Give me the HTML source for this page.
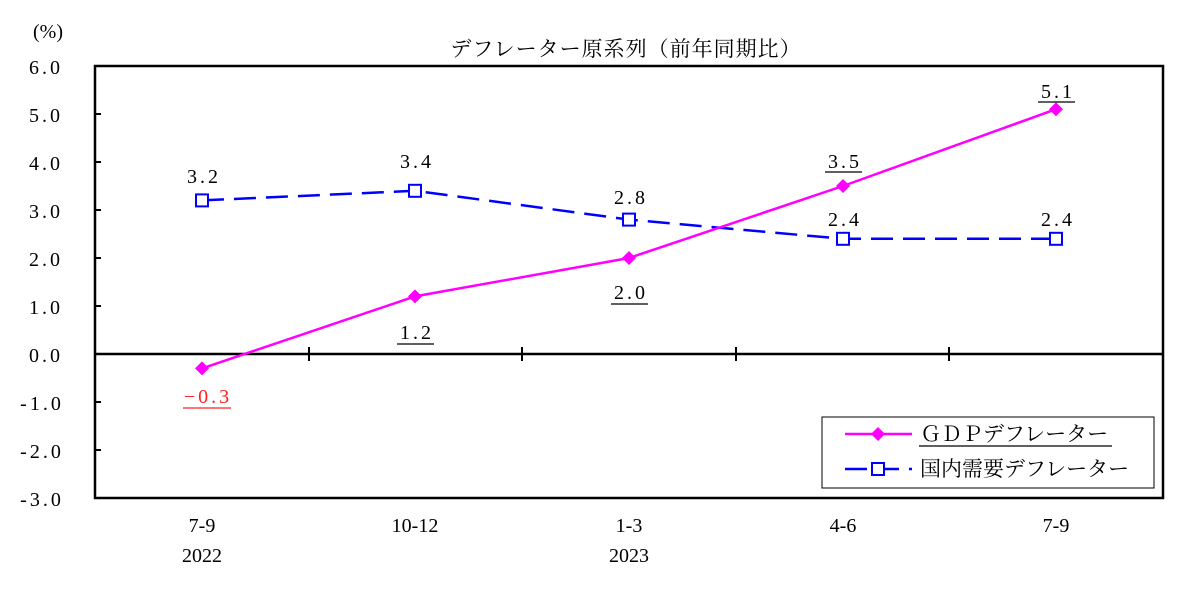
<!DOCTYPE html>
<html><head><meta charset="utf-8"><style>
html,body{margin:0;padding:0;background:#fff;}
text{font-family:"Liberation Serif","Noto Serif CJK SC",serif;font-size:20px;fill:#000;}
.jp{font-family:"Noto Serif CJK JP","Noto Serif CJK SC",serif;}
</style></head><body>
<svg width="1181" height="594" viewBox="0 0 1181 594" xmlns="http://www.w3.org/2000/svg">
<text x="48" y="38" text-anchor="middle">(%)</text>
<text class="jp" x="626" y="56" text-anchor="middle" style="font-size:21px" letter-spacing="1">デフレーター原系列（前年同期比）</text>
<rect x="95" y="66" width="1068" height="432" fill="none" stroke="#000" stroke-width="2.5"/>
<g stroke="#000" stroke-width="2">
<line x1="95" y1="114" x2="101" y2="114"/><line x1="95" y1="162" x2="101" y2="162"/>
<line x1="95" y1="210" x2="101" y2="210"/><line x1="95" y1="258" x2="101" y2="258"/>
<line x1="95" y1="306" x2="101" y2="306"/><line x1="95" y1="402" x2="101" y2="402"/>
<line x1="95" y1="450" x2="101" y2="450"/>
<line x1="95" y1="354" x2="1163" y2="354" stroke-width="2.5"/>
<line x1="309" y1="347" x2="309" y2="361"/><line x1="522" y1="347" x2="522" y2="361"/>
<line x1="736" y1="347" x2="736" y2="361"/><line x1="949" y1="347" x2="949" y2="361"/>
</g>
<g text-anchor="middle" letter-spacing="3">
<text x="46" y="74">6.0</text><text x="46" y="122">5.0</text><text x="46" y="170">4.0</text>
<text x="46" y="218">3.0</text><text x="46" y="266">2.0</text><text x="46" y="314">1.0</text>
<text x="46" y="362">0.0</text><text x="42" y="410">-1.0</text><text x="42" y="458">-2.0</text>
<text x="42" y="506">-3.0</text>
</g>
<g text-anchor="middle">
<text x="202" y="532">7-9</text><text x="415" y="532">10-12</text><text x="629" y="532">1-3</text>
<text x="843" y="532">4-6</text><text x="1056" y="532">7-9</text>
<text x="202" y="562">2022</text><text x="629" y="562">2023</text>
</g>
<polyline points="202,200.4 415,190.8 629,219.6 843,238.8 1056,238.8" fill="none" stroke="#0000ff" stroke-width="2.5" stroke-dasharray="22,10"/>
<g fill="#fff" stroke="#0000ff" stroke-width="2">
<rect x="196" y="194.4" width="12" height="12"/><rect x="409" y="184.8" width="12" height="12"/>
<rect x="623" y="213.6" width="12" height="12"/><rect x="837" y="232.8" width="12" height="12"/>
<rect x="1050" y="232.8" width="12" height="12"/>
</g>
<polyline points="202,368.4 415,296.4 629,258 843,186 1056,109.2" fill="none" stroke="#ff00ff" stroke-width="2.5"/>
<g fill="#ff00ff">
<path d="M202 361.4l7 7-7 7-7-7z"/><path d="M415 289.4l7 7-7 7-7-7z"/><path d="M629 251l7 7-7 7-7-7z"/>
<path d="M843 179l7 7-7 7-7-7z"/><path d="M1056 102.2l7 7-7 7-7-7z"/>
</g>
<g text-anchor="middle" letter-spacing="3">
<text x="204" y="183">3.2</text><text x="417" y="168">3.4</text><text x="631" y="204">2.8</text>
<text x="845" y="226">2.4</text><text x="1058" y="226">2.4</text>
<text x="417" y="339">1.2</text><text x="631" y="299">2.0</text>
<text x="845" y="168">3.5</text><text x="1058" y="98">5.1</text>
<text x="208" y="403" style="fill:#ff2020">−0.3</text>
</g>
<g stroke="#000" stroke-width="1.3">
<line x1="397" y1="344" x2="434" y2="344"/><line x1="611" y1="304" x2="648" y2="304"/>
<line x1="825" y1="172" x2="862" y2="172"/><line x1="1038" y1="102" x2="1075" y2="102"/>
<line x1="183" y1="408" x2="231" y2="408" stroke="#ff2020"/>
</g>
<rect x="822" y="417" width="332" height="71" fill="#fff" stroke="#000" stroke-width="1"/>
<line x1="845" y1="434" x2="912" y2="434" stroke="#ff00ff" stroke-width="2.5"/>
<path d="M878 427l7 7-7 7-7-7z" fill="#ff00ff"/>
<text class="jp" x="920" y="441" style="font-size:21px">ＧＤＰデフレーター</text>
<line x1="919" y1="446" x2="1112" y2="446" stroke="#000" stroke-width="1.3"/>
<line x1="845" y1="469" x2="912" y2="469" stroke="#0000ff" stroke-width="2.5" stroke-dasharray="22,10"/>
<rect x="872" y="463" width="12" height="12" fill="#fff" stroke="#0000ff" stroke-width="2"/>
<text class="jp" x="920" y="476" style="font-size:21px">国内需要デフレーター</text>
</svg>
</body></html>
